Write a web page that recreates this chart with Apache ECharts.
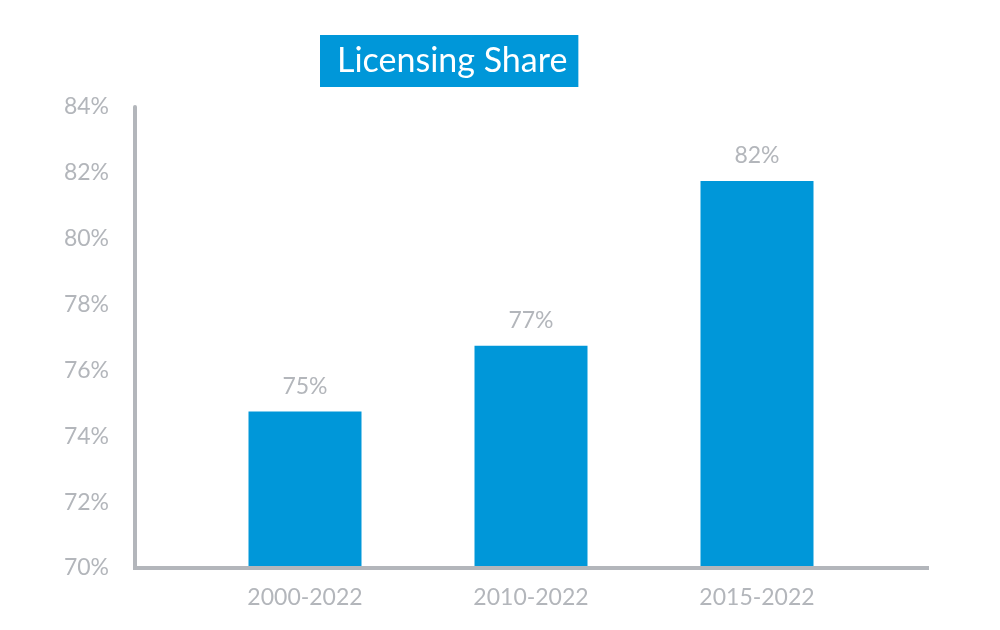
<!DOCTYPE html><html><head><meta charset="utf-8"><script src="https://cdn.jsdelivr.net/npm/echarts@6/dist/echarts.min.js"></script></head><body style="margin:0"><div id="c" style="width:1000px;height:630px"></div><script>
const categories=["2000-2022","2010-2022","2015-2022"];
const values=[74.75,76.75,81.75];
const labels=["75%","77%","82%"];
const yTicks=[70,84,2];
const c=echarts.init(document.getElementById('c'));
const gray='#b3b6bb';
c.setOption({
 title:{text:'Licensing Share',left:320,top:35,padding:[9,11,9,17],backgroundColor:'#0097d9',textStyle:{color:'#fff',fontSize:34,fontWeight:'normal',fontFamily:'Lato'}},
 grid:{left:192,right:130,top:107,bottom:62},
 xAxis:{type:'category',data:categories,axisLine:{show:false},axisTick:{show:false},axisLabel:{color:gray,fontSize:23,fontFamily:'Lato',margin:18}},
 yAxis:{type:'value',min:yTicks[0],max:yTicks[1],interval:yTicks[2],offset:57,splitLine:{show:false},axisLine:{show:true,lineStyle:{color:gray,width:4}},axisLabel:{color:gray,fontSize:23,fontFamily:'Lato',margin:26,formatter:'{value}%'}},
 graphic:[{type:'line',shape:{x1:133,y1:568,x2:929,y2:568},style:{stroke:gray,lineWidth:4},z:10}],
 series:[{type:'bar',data:values,barWidth:'50%',itemStyle:{color:'#0097d9'},label:{show:true,position:'top',distance:14,color:gray,fontSize:23,fontFamily:'Lato',formatter:p=>labels[p.dataIndex]}}]
});
</script></body></html>
